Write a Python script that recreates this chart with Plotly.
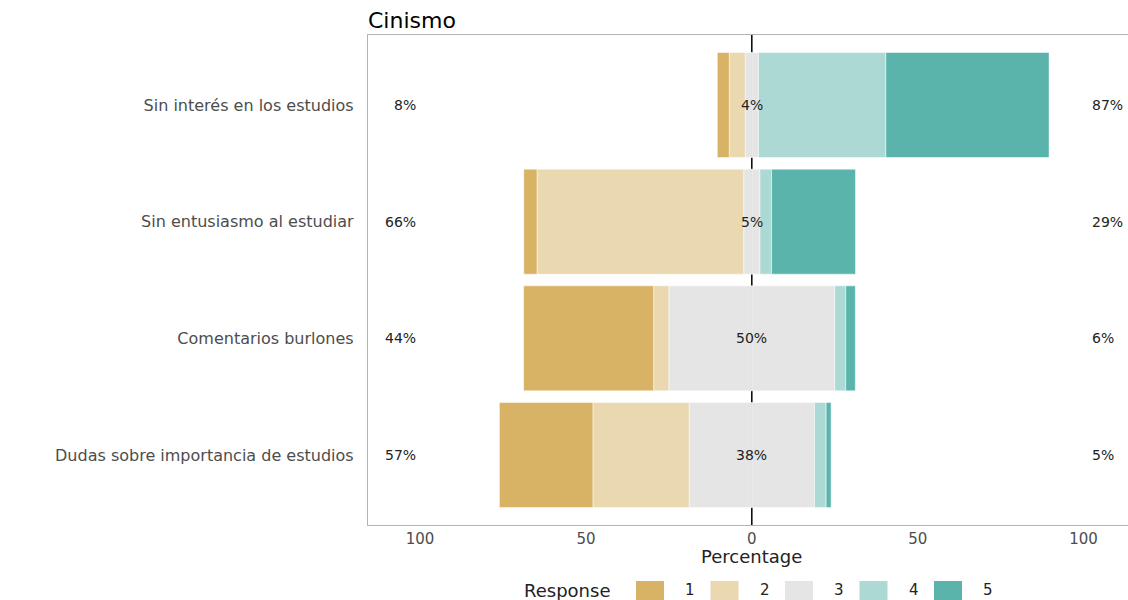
import plotly.graph_objects as go

# ---------------- data ----------------
items = ["Sin interés en los estudios", "Sin entusiasmo al estudiar",
         "Comentarios burlones", "Dudas sobre importancia de estudios"]
levels = ["1", "2", "3", "4", "5"]
resp1 = [3.6, 4.0, 39.2, 28.2]
resp2 = [4.8, 62.3, 4.6, 29.0]
resp3 = [4.0, 4.9, 50.0, 37.8]
resp4 = [38.4, 3.5, 3.3, 3.5]
resp5 = [49.2, 25.3, 2.9, 1.5]
low_lbl = ["8%", "66%", "44%", "57%"]
neu_lbl = ["4%", "5%", "50%", "38%"]
high_lbl = ["87%", "29%", "6%", "5%"]
xtick_vals = [-100, -50, 0, 50, 100]
xtick_text = ["100", "50", "0", "50", "100"]

colors = ["#D8B365", "#E9D8B0", "#E5E5E5", "#ADD9D5", "#5AB4AC"]
FONT = "DejaVu Sans"

fig = go.Figure()
line = dict(color="white", width=0.5)

def bar(vals, color, name):
    fig.add_trace(go.Bar(y=items, x=vals, orientation="h", name=name,
                         marker=dict(color=color, line=line),
                         showlegend=False, hoverinfo="x+y+name"))

# negative side (stack outward from zero)
bar([-v / 2 for v in resp3], colors[2], levels[2])
bar([-v for v in resp2], colors[1], levels[1])
bar([-v for v in resp1], colors[0], levels[0])
# positive side
bar([v / 2 for v in resp3], colors[2], levels[2])
bar(resp4, colors[3], levels[3])
bar(resp5, colors[4], levels[4])

# zero reference line, behind the bars
fig.add_shape(type="line", xref="x", yref="paper", x0=0, x1=0, y0=0, y1=1,
              layer="below", line=dict(color="black", width=1.5))

# percentage labels
for it, lo, ne, hi in zip(items, low_lbl, neu_lbl, high_lbl):
    fig.add_annotation(x=-100, y=it, xref="x", yref="y", text=lo, showarrow=False,
                       xanchor="right", xshift=-2, font=dict(family=FONT, size=14, color="#222"))
    fig.add_annotation(x=0, y=it, xref="x", yref="y", text=ne, showarrow=False,
                       xanchor="center", font=dict(family=FONT, size=14, color="#222"))
    fig.add_annotation(x=100, y=it, xref="x", yref="y", text=hi, showarrow=False,
                       xanchor="left", xshift=6, font=dict(family=FONT, size=14, color="#222"))

# layout helpers (pixel -> paper)
L, R, T, B = 368, 1128, 35, 525
W, H = R - L, B - T
def px(x):
    return (x - L) / W
def py(y):
    return (B - y) / H

# x-axis title
fig.add_annotation(x=0, xref="x", y=py(556), yref="paper", text="Percentage",
                   showarrow=False, xanchor="center", yanchor="middle",
                   font=dict(family=FONT, size=18, color="#222"))

# custom legend (bottom)
fig.add_annotation(x=px(567), y=py(590), xref="paper", yref="paper", text="Response",
                   showarrow=False, xanchor="center", yanchor="middle",
                   font=dict(family=FONT, size=18, color="#222"))
for i, (lev, col) in enumerate(zip(levels, colors)):
    x0 = 636 + i * 74.5
    fig.add_shape(type="rect", xref="paper", yref="paper",
                  x0=px(x0), x1=px(x0 + 28), y0=py(603), y1=py(581),
                  fillcolor=col, line=dict(width=0))
    fig.add_annotation(x=px(x0 + 54), y=py(590), xref="paper", yref="paper", text=lev,
                       showarrow=False, xanchor="center", yanchor="middle",
                       font=dict(family=FONT, size=15, color="#222"))

fig.update_layout(
    width=1128, height=600,
    margin=dict(l=L, r=1128 - R, t=T, b=600 - B),
    barmode="relative", bargap=0.1,
    plot_bgcolor="white", paper_bgcolor="white",
    showlegend=False,
    title=dict(text="Cinismo", x=0, xref="paper", xanchor="left",
               y=1 - 20 / 600, yref="container", yanchor="middle",
               font=dict(family=FONT, size=22, color="black")),
    xaxis=dict(range=[-115.7, 113.4], tickvals=xtick_vals, ticktext=xtick_text,
               showgrid=False, zeroline=False,
               showline=True, mirror=True, linecolor="#B3B3B3", linewidth=1.3,
               ticks="",
               tickfont=dict(family=FONT, size=15, color="#4D4D4D")),
    yaxis=dict(type="category", categoryorder="array", categoryarray=items[::-1],
               range=[-0.6, 3.6], showgrid=False,
               showline=True, mirror=False, linecolor="#B3B3B3", linewidth=1.3,
               ticks="", ticklabelstandoff=10,
               tickfont=dict(family=FONT, size=16, color="#4D4D4D")),
)

fig.write_html("out.html", config={"displayModeBar": False},
               post_script="document.body.style.margin='0';")
